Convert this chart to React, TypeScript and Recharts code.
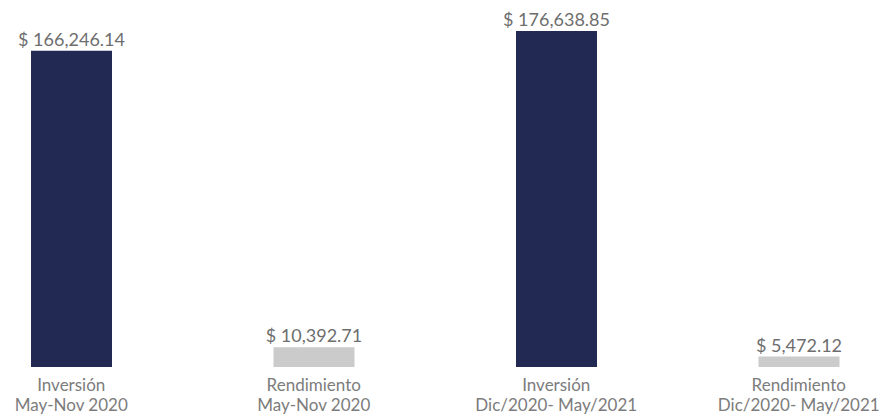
import React from 'react';
import { BarChart, Bar, XAxis, YAxis, Cell, LabelList } from 'recharts';

const titles = ['Inversión', 'Rendimiento', 'Inversión', 'Rendimiento'];
const periods = ['May-Nov 2020', 'May-Nov 2020', 'Dic/2020- May/2021', 'Dic/2020- May/2021'];
const amounts = [166246.14, 10392.71, 176638.85, 5472.12];

const COLORS = ['#222a54', '#cbcbcb'];

const chartData = amounts.map((value, i) => ({
  name: `${titles[i]} ${periods[i]}`,
  title: titles[i],
  period: periods[i],
  value,
}));

const money = (v: number) =>
  '$ ' + v.toLocaleString('en-US', { minimumFractionDigits: 2, maximumFractionDigits: 2 });

const TwoLineTick = (props: any) => {
  const { x, y, payload } = props;
  const i = payload.index;
  return (
    <text x={x} y={y} textAnchor="middle" fill="#7c7c7c" fontSize={17} fontFamily="Lato, sans-serif">
      <tspan x={x} dy={16}>{titles[i]}</tspan>
      <tspan x={x} dy={20}>{periods[i]}</tspan>
    </text>
  );
};

const ValueLabel = (props: any) => {
  const { x, y, width, value } = props;
  return (
    <text
      x={Number(x) + Number(width) / 2}
      y={Number(y) - 5}
      textAnchor="middle"
      fill="#6e6e6e"
      fontSize={18}
      fontFamily="Lato, sans-serif"
    >
      {money(Number(value))}
    </text>
  );
};

export default function App() {
  return (
    <div style={{ position: 'absolute', left: 0, top: 0, width: 888, height: 417, overflow: 'hidden', background: '#fff' }}>
      <div style={{ marginLeft: -50 }}>
        <BarChart width={970} height={417} data={chartData} margin={{ top: 31, right: 0, bottom: 0, left: 0 }}>
          <XAxis dataKey="name" axisLine={false} tickLine={false} height={50} interval={0} tick={<TwoLineTick />} />
          <YAxis hide domain={[0, 176638.85]} />
          <Bar dataKey="value" barSize={81} isAnimationActive={false}>
            {chartData.map((entry, index) => (
              <Cell key={`cell-${index}`} fill={COLORS[index % COLORS.length]} />
            ))}
            <LabelList dataKey="value" content={<ValueLabel />} />
          </Bar>
        </BarChart>
      </div>
    </div>
  );
}
